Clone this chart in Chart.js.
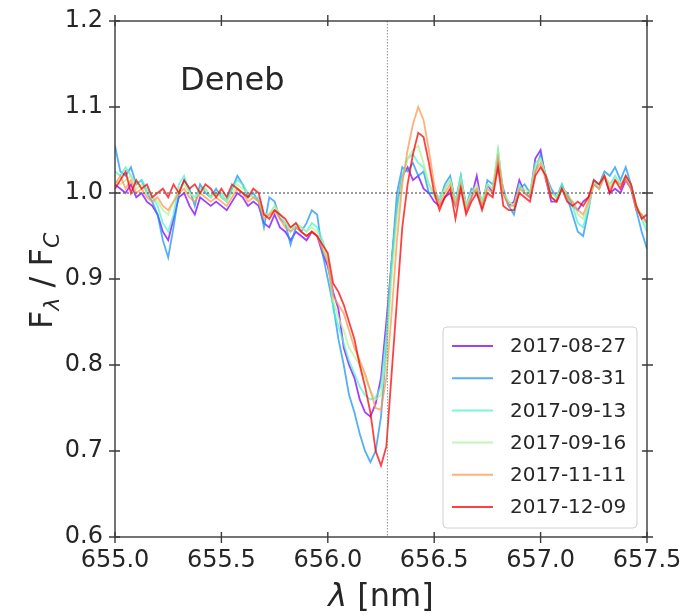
<!DOCTYPE html>
<html>
<head>
<meta charset="utf-8">
<script src="https://cdn.jsdelivr.net/npm/chart.js@4.4.1/dist/chart.umd.min.js"></script>
<style>
  body { margin: 0; background: #fff; }
  canvas { display: block; }
</style>
</head>
<body>
<canvas id="chart" width="681" height="615"></canvas>
<script>
const wavelength = [
    655.000,655.025,655.050,655.075,655.100,655.125,655.150,655.175,655.200,655.225,
    655.250,655.275,655.300,655.325,655.350,655.375,655.400,655.425,655.450,655.475,
    655.500,655.525,655.550,655.575,655.600,655.625,655.650,655.675,655.700,655.725,
    655.750,655.775,655.800,655.825,655.850,655.875,655.900,655.925,655.950,655.975,
    656.000,656.025,656.050,656.075,656.100,656.125,656.150,656.175,656.200,656.225,
    656.250,656.275,656.300,656.325,656.350,656.375,656.400,656.425,656.450,656.475,
    656.500,656.525,656.550,656.575,656.600,656.625,656.650,656.675,656.700,656.725,
    656.750,656.775,656.800,656.825,656.850,656.875,656.900,656.925,656.950,656.975,
    657.000,657.025,657.050,657.075,657.100,657.125,657.150,657.175,657.200,657.225,
    657.250,657.275,657.300,657.325,657.350,657.375,657.400,657.425,657.450,657.475,
    657.500
];

const flux_0827 = [
    1.01,1.005,1.0,1.01,0.995,1.0,0.99,0.985,0.975,0.955,
    0.945,0.97,0.995,1.0,0.985,0.975,0.995,0.99,0.985,0.99,
    0.985,0.98,0.99,1.0,0.995,0.985,0.99,0.985,0.965,0.96,
    0.975,0.96,0.955,0.945,0.955,0.95,0.945,0.955,0.95,0.93,
    0.915,0.885,0.865,0.82,0.8,0.785,0.76,0.745,0.74,0.755,
    0.785,0.85,0.92,0.985,1.02,1.03,1.015,1.02,1.005,1.0,
    0.99,0.985,0.995,1.0,0.985,1.01,0.98,0.995,1.02,0.985,
    1.01,1.0,1.045,1.0,0.985,0.99,1.015,1.0,0.995,1.04,
    1.05,1.015,0.99,0.99,1.005,1.0,0.985,0.98,0.99,0.995,
    1.01,1.005,1.02,1.0,1.005,1.0,1.015,1.005,0.98,0.975,
    0.965
];
const flux_0831 = [
    1.055,1.025,1.02,1.03,1.01,1.015,1.0,0.99,0.975,0.945,
    0.925,0.96,1.0,1.015,1.005,0.985,1.01,1.0,0.995,1.005,
    0.995,0.99,1.005,1.02,1.01,0.995,1.0,0.99,0.96,0.995,
    0.99,0.97,0.965,0.94,0.96,0.955,0.965,0.98,0.975,0.93,
    0.9,0.87,0.83,0.8,0.765,0.745,0.72,0.7,0.687,0.7,
    0.74,0.82,0.92,1.0,1.03,1.025,1.035,1.02,1.025,1.0,
    1.0,0.99,1.01,1.02,0.99,1.02,0.985,1.005,1.0,0.985,
    1.015,1.01,1.03,1.005,0.985,0.975,1.005,1.01,1.0,1.025,
    1.045,1.02,1.005,0.995,1.01,0.995,0.975,0.955,0.95,0.98,
    1.015,1.01,1.025,1.02,1.03,1.015,1.03,1.01,0.98,0.955,
    0.935
];
const flux_0913 = [
    1.025,1.02,1.03,1.02,1.01,1.015,1.005,0.995,0.985,0.965,
    0.955,0.975,1.01,1.02,1.0,0.995,1.005,1.005,0.995,1.0,
    1.0,0.99,1.005,1.015,1.01,1.0,0.995,0.995,0.975,0.975,
    0.985,0.975,0.965,0.955,0.965,0.96,0.955,0.965,0.96,0.945,
    0.925,0.865,0.845,0.825,0.805,0.79,0.775,0.765,0.76,0.762,
    0.775,0.835,0.92,0.985,1.02,1.04,1.045,1.035,1.03,1.01,
    1.0,0.995,1.005,1.015,0.99,1.02,0.985,1.0,1.005,0.99,
    1.01,1.005,1.05,1.0,0.99,0.985,1.01,1.0,1.0,1.035,
    1.04,1.02,1.0,0.995,1.01,0.995,0.985,0.965,0.96,0.985,
    1.015,1.005,1.02,1.01,1.02,1.01,1.02,1.01,0.985,0.97,
    0.955
];
const flux_0916 = [
    1.015,1.01,1.015,1.02,1.005,1.01,1.0,0.995,0.99,0.98,
    0.975,0.99,1.005,1.01,1.0,0.995,1.0,1.005,0.995,1.0,
    0.995,0.99,1.0,1.01,1.005,1.0,0.995,0.99,0.975,0.975,
    0.985,0.975,0.965,0.96,0.965,0.96,0.955,0.96,0.955,0.94,
    0.925,0.875,0.855,0.84,0.82,0.81,0.8,0.785,0.77,0.76,
    0.765,0.81,0.9,0.97,1.015,1.04,1.05,1.055,1.035,1.01,
    0.995,0.99,1.005,1.015,0.99,1.015,0.985,1.0,1.01,0.99,
    1.01,1.005,1.05,1.0,0.99,0.985,1.005,1.005,1.0,1.03,
    1.04,1.02,1.0,0.995,1.005,1.0,0.99,0.975,0.97,0.985,
    1.01,1.005,1.02,1.01,1.015,1.01,1.02,1.01,0.985,0.975,
    0.96
];
const flux_1111 = [
    1.01,1.02,1.005,1.015,1.0,1.005,0.995,0.99,0.995,0.985,
    0.98,0.99,1.0,1.005,0.995,0.99,1.0,0.995,0.99,0.995,
    0.99,0.985,0.995,1.005,1.0,0.99,0.995,0.99,0.97,0.975,
    0.98,0.97,0.96,0.955,0.96,0.955,0.95,0.955,0.95,0.935,
    0.92,0.88,0.87,0.86,0.84,0.82,0.805,0.79,0.77,0.75,
    0.748,0.785,0.86,0.945,1.01,1.05,1.08,1.1,1.085,1.05,
    1.01,0.985,1.0,1.01,0.985,1.01,0.98,0.995,1.005,0.985,
    1.005,1.0,1.04,1.0,0.985,0.985,1.005,1.0,0.995,1.025,
    1.035,1.015,0.995,0.99,1.005,0.995,0.99,0.98,0.975,0.99,
    1.01,1.005,1.02,1.005,1.015,1.01,1.015,1.005,0.98,0.975,
    0.965
];
const flux_1209 = [
    1.005,1.015,1.025,1.0,1.015,1.005,1.01,0.995,1.0,1.005,
    0.995,1.01,1.0,1.015,1.005,1.01,1.0,1.01,1.005,0.995,
    1.005,0.995,1.01,1.005,1.0,0.995,1.005,1.0,0.975,0.97,
    0.98,0.975,0.97,0.96,0.965,0.955,0.95,0.955,0.95,0.94,
    0.93,0.895,0.885,0.87,0.85,0.83,0.8,0.775,0.745,0.7,
    0.683,0.705,0.79,0.875,0.96,1.01,1.045,1.07,1.065,1.035,
    1.0,0.98,0.995,1.005,0.97,1.005,0.975,0.99,1.0,0.98,
    1.0,0.995,1.03,0.985,0.98,0.98,1.0,0.995,0.99,1.02,
    1.03,1.02,0.995,0.99,1.005,0.99,0.985,0.99,0.985,0.995,
    1.015,1.01,1.02,1.0,1.015,1.005,1.02,1.01,0.985,0.97,
    0.975
];

const dates = ['2017-08-27', '2017-08-31', '2017-09-13', '2017-09-16', '2017-11-11', '2017-12-09'];
const fluxes = [flux_0827, flux_0831, flux_0913, flux_0916, flux_1111, flux_1209];
// matplotlib "rainbow" sampled at 6 steps
const lineColors = ['rgba(128,0,255,0.75)', 'rgba(26,150,243,0.75)', 'rgba(77,243,206,0.75)',
    'rgba(178,243,150,0.75)', 'rgba(255,150,79,0.75)', 'rgba(255,0,0,0.75)'];

const xTicks = [655.0, 655.5, 656.0, 656.5, 657.0, 657.5];
const yTicks = [0.6, 0.7, 0.8, 0.9, 1.0, 1.1, 1.2];
const h_alpha = 656.28;
const continuum = 1.0;

const textColor = '#262626';
const spineColor = '#3a3a3a';

const ctx = document.getElementById('chart');

const datasets = fluxes.map((flux, i) => ({
    label: dates[i],
    data: wavelength.map((w, j) => ({x: w, y: flux[j]})),
    borderColor: lineColors[i],
    borderWidth: 1.8,
    pointRadius: 0,
    tension: 0,
    fill: false,
    order: fluxes.length - i,
}));

function drawSub(c, x, y, main, sub, size, subItalic) {
    c.font = size + 'px "DejaVu Sans"';
    c.fillText(main, x, y);
    x += c.measureText(main).width;
    c.font = (subItalic ? 'italic ' : '') + Math.round(size * 0.7) + 'px "DejaVu Sans"';
    c.fillText(sub, x, y + size * 0.22);
    return x + c.measureText(sub).width;
}

const decorations = {
    id: 'decorations',
    afterDatasetsDraw(chart) {
        const c = chart.ctx;
        const a = chart.chartArea;
        const xs = chart.scales.x, ys = chart.scales.y;
        c.save();
        c.strokeStyle = 'rgba(90,90,90,0.8)';
        c.lineWidth = 1.3;
        c.setLineDash([2, 2]);
        const yc = ys.getPixelForValue(continuum);
        c.beginPath(); c.moveTo(a.left, yc); c.lineTo(a.right, yc); c.stroke();
        c.strokeStyle = 'rgba(120,120,120,0.8)';
        c.lineWidth = 1;
        c.setLineDash([1.5, 1.5]);
        const xh = xs.getPixelForValue(h_alpha);
        c.beginPath(); c.moveTo(xh, a.top); c.lineTo(xh, a.bottom); c.stroke();
        c.restore();
    },
    afterDraw(chart) {
        const c = chart.ctx;
        const a = chart.chartArea;
        const xs = chart.scales.x, ys = chart.scales.y;
        c.save();
        // frame and in/out ticks
        c.strokeStyle = spineColor;
        c.lineWidth = 1.4;
        c.strokeRect(a.left, a.top, a.right - a.left, a.bottom - a.top);
        c.beginPath();
        xTicks.forEach((t) => {
            const px = xs.getPixelForValue(t);
            c.moveTo(px, a.bottom - 5); c.lineTo(px, a.bottom + 6);
            c.moveTo(px, a.top - 6); c.lineTo(px, a.top + 5);
        });
        yTicks.forEach((t) => {
            const py = ys.getPixelForValue(t);
            c.moveTo(a.left - 6, py); c.lineTo(a.left + 5, py);
            c.moveTo(a.right - 5, py); c.lineTo(a.right + 6, py);
        });
        c.stroke();

        c.fillStyle = textColor;
        c.textBaseline = 'alphabetic';
        c.font = '32px "DejaVu Sans"';
        c.fillText('Deneb', 180, 90);

        // x title
        c.font = 'italic 32px "DejaVu Sans"';
        const w1 = c.measureText('λ').width;
        c.font = '32px "DejaVu Sans"';
        const w2 = c.measureText(' [nm]').width;
        const cx = (a.left + a.right) / 2 - (w1 + w2) / 2;
        c.font = 'italic 32px "DejaVu Sans"';
        c.fillText('λ', cx, 606);
        c.font = '32px "DejaVu Sans"';
        c.fillText(' [nm]', cx + w1, 606);

        // y title, rotated
        c.save();
        c.translate(52, (a.top + a.bottom) / 2);
        c.rotate(-Math.PI / 2);
        let x = -50;
        x = drawSub(c, x, 0, 'F', 'λ', 32, true);
        c.font = '32px "DejaVu Sans"';
        c.fillText(' / ', x, 0);
        x += c.measureText(' / ').width;
        drawSub(c, x, 0, 'F', 'C', 32, true);
        c.restore();

        // legend
        const lx = 443, ly = 327, lw = 194, lh = 201;
        c.fillStyle = 'rgba(255,255,255,0.8)';
        c.strokeStyle = '#d0d0d0';
        c.lineWidth = 1;
        c.beginPath();
        c.roundRect(lx, ly, lw, lh, 4);
        c.fill();
        c.stroke();
        c.font = '20px "DejaVu Sans"';
        c.textBaseline = 'middle';
        chart.data.datasets.forEach((ds, i) => {
            const ey = 346 + i * 32.2;
            c.strokeStyle = ds.borderColor;
            c.lineWidth = 2;
            c.beginPath(); c.moveTo(452, ey); c.lineTo(493, ey); c.stroke();
            c.fillStyle = textColor;
            c.fillText(ds.label, 510, ey + 1);
        });
        c.restore();
    }
};

const mainChart = new Chart(ctx, {
    type: 'line',
    data: {datasets: datasets},
    options: {
        responsive: false,
        animation: false,
        layout: {padding: {top: 21, right: 34, left: 0, bottom: 0}},
        plugins: {legend: {display: false}, tooltip: {enabled: false}},
        scales: {
            x: {
                type: 'linear',
                min: 655.0,
                max: 657.5,
                afterFit: (s) => { s.height = 78; s.paddingLeft = 0; s.paddingRight = 0; },
                afterBuildTicks: (s) => { s.ticks = xTicks.map((v) => ({value: v})); },
                grid: {display: false, drawTicks: false},
                border: {display: false},
                ticks: {
                    autoSkip: false,
                    maxRotation: 0,
                    padding: 9,
                    color: textColor,
                    font: {family: 'DejaVu Sans', size: 24},
                    callback: (v) => v.toFixed(1),
                },
            },
            y: {
                type: 'linear',
                min: 0.6,
                max: 1.2,
                afterFit: (s) => { s.width = 115; s.paddingTop = 0; s.paddingBottom = 0; },
                afterBuildTicks: (s) => { s.ticks = yTicks.map((v) => ({value: v})); },
                grid: {display: false, drawTicks: false},
                border: {display: false},
                ticks: {
                    autoSkip: false,
                    padding: 12,
                    color: textColor,
                    font: {family: 'DejaVu Sans', size: 24},
                    callback: (v) => v.toFixed(1),
                },
            },
        },
    },
    plugins: [decorations],
});
</script>
</body>
</html>
